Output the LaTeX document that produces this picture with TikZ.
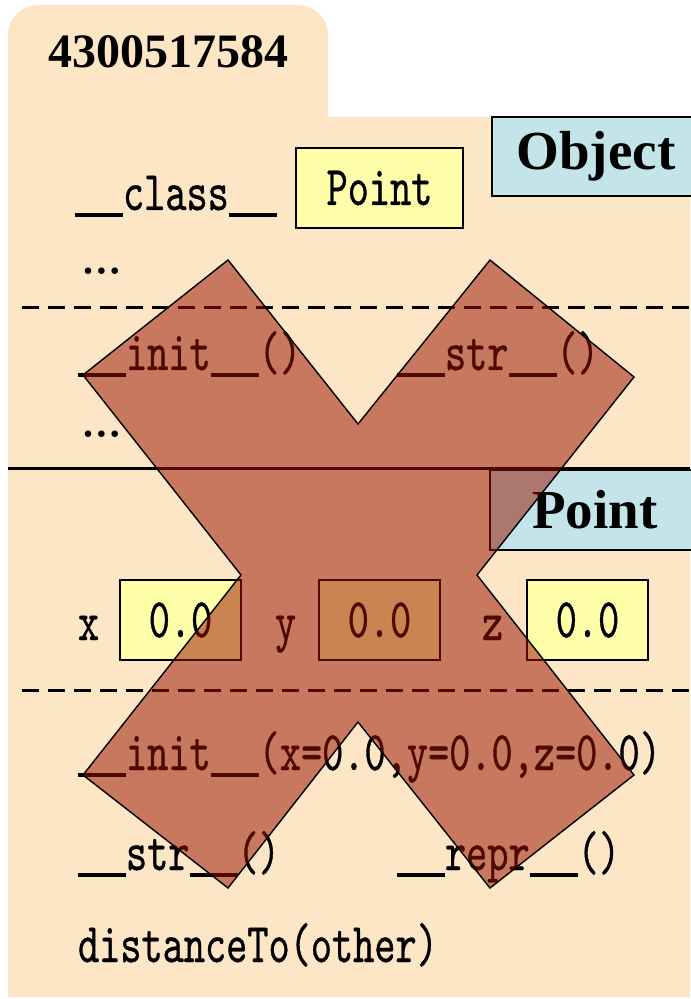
\documentclass[tikz,border=0pt]{standalone}
\usepackage{fontspec}
\usepackage{tikz}
\usetikzlibrary{positioning}
\newfontfamily\codefont[FakeStretch=0.72,FakeBold=0.6]{lmmono10-regular.otf}
\newfontfamily\labelfont{Liberation Serif}
\definecolor{folderbg}{HTML}{FDE6C6}
\definecolor{valfill}{HTML}{FFFFAA}
\definecolor{clsfill}{HTML}{C3E4E8}
\definecolor{crossred}{RGB}{152,20,0}
\newcommand{\dund}{\rule[-3.5pt]{24pt}{2pt}}

\begin{document}
\begin{tikzpicture}[x=0.5pt,y=-0.5pt,
  code/.style={inner sep=0pt,outer sep=0pt,anchor=base west,font=\codefont\fontsize{28}{32}\selectfont},
  val/.style={draw,line width=1pt,fill=valfill,minimum width=60.5pt,minimum height=40pt,inner sep=0pt,font=\codefont\fontsize{28}{32}\selectfont},
  cls/.style={draw,line width=1pt,fill=clsfill,minimum width=105pt,minimum height=40pt,inner sep=0pt,font=\labelfont\bfseries\fontsize{27.5}{30}\selectfont},
  dotrow/.style={inner sep=0pt,anchor=base west,font=\rmfamily\fontsize{40}{40}\selectfont},
  sep/.style={line width=1.5pt,dash pattern=on 8.5pt off 4.5pt},
  cross/.style={fill=crossred,fill opacity=0.52,draw=black,line width=0.7pt}]
\useasboundingbox (0,0) rectangle (690,999);
% folder with tab
\fill[folderbg] (8,997) -- (8,117) [rounded corners=15] -- (8,5) -- (328,5) [sharp corners] -- (328,117) -- (690,117) -- (690,997) -- cycle;
\node[inner sep=0pt,anchor=base west,font=\labelfont\bfseries\fontsize{24}{28}\selectfont] (id) at (48,68) {4300517584};
% Object part
\node[code] (classlbl) at (75,210) {\dund class\dund};
\node[val,minimum width=83.5pt] (vclass) at (379.5,188) {Point};
\node[cls,minimum width=104pt,minimum height=39.5pt] (objcls) at (596,156.5) {Object};
\node[dotrow] (dotsa) at (78,275) {\ldots};
\coordinate (sa1) at (22,308); \coordinate (sa2) at (690,308);
\draw[sep] (sa1) -- (sa2);
\node[code] (inita) at (78,370) {\dund init\dund()};
\node[code] (stra) at (397,370) {\dund str\dund()};
\node[dotrow] (dotsb) at (78,437) {\ldots};
\coordinate (sb1) at (8,468); \coordinate (sb2) at (690,468);
\draw[line width=1.5pt] (sb1) -- (sb2);
% Point part
\node[cls] (ptcls) at (595,510) {Point};
\node[code] (lx) at (78,640) {x};
\node[val] (vx) at (180.5,620) {0.0};
\node[code] (ly) at (275,640) {y};
\node[val] (vy) at (379.5,620) {0.0};
\node[code] (lz) at (482,640) {z};
\node[val] (vz) at (587.5,620) {0.0};
\coordinate (sc1) at (22,690); \coordinate (sc2) at (690,690);
\draw[sep] (sc1) -- (sc2);
\node[code] (initb) at (78,770) {\dund init\dund(x=0.0,y=0.0,z=0.0)};
\node[code] (strb) at (78,870) {\dund str\dund()};
\node[code] (repr) at (397,870) {\dund repr\dund()};
\node[code] (dist) at (78,962) {distanceTo(other)};
% the big cross on top
\filldraw[cross] (228,260) -- (358,424) -- (490,260) -- (634,377) -- (477,575) -- (634,775)
  -- (490,888) -- (358,722) -- (228,888) -- (83,775) -- (241,575) -- (83,375) -- cycle;
\end{tikzpicture}
\end{document}
